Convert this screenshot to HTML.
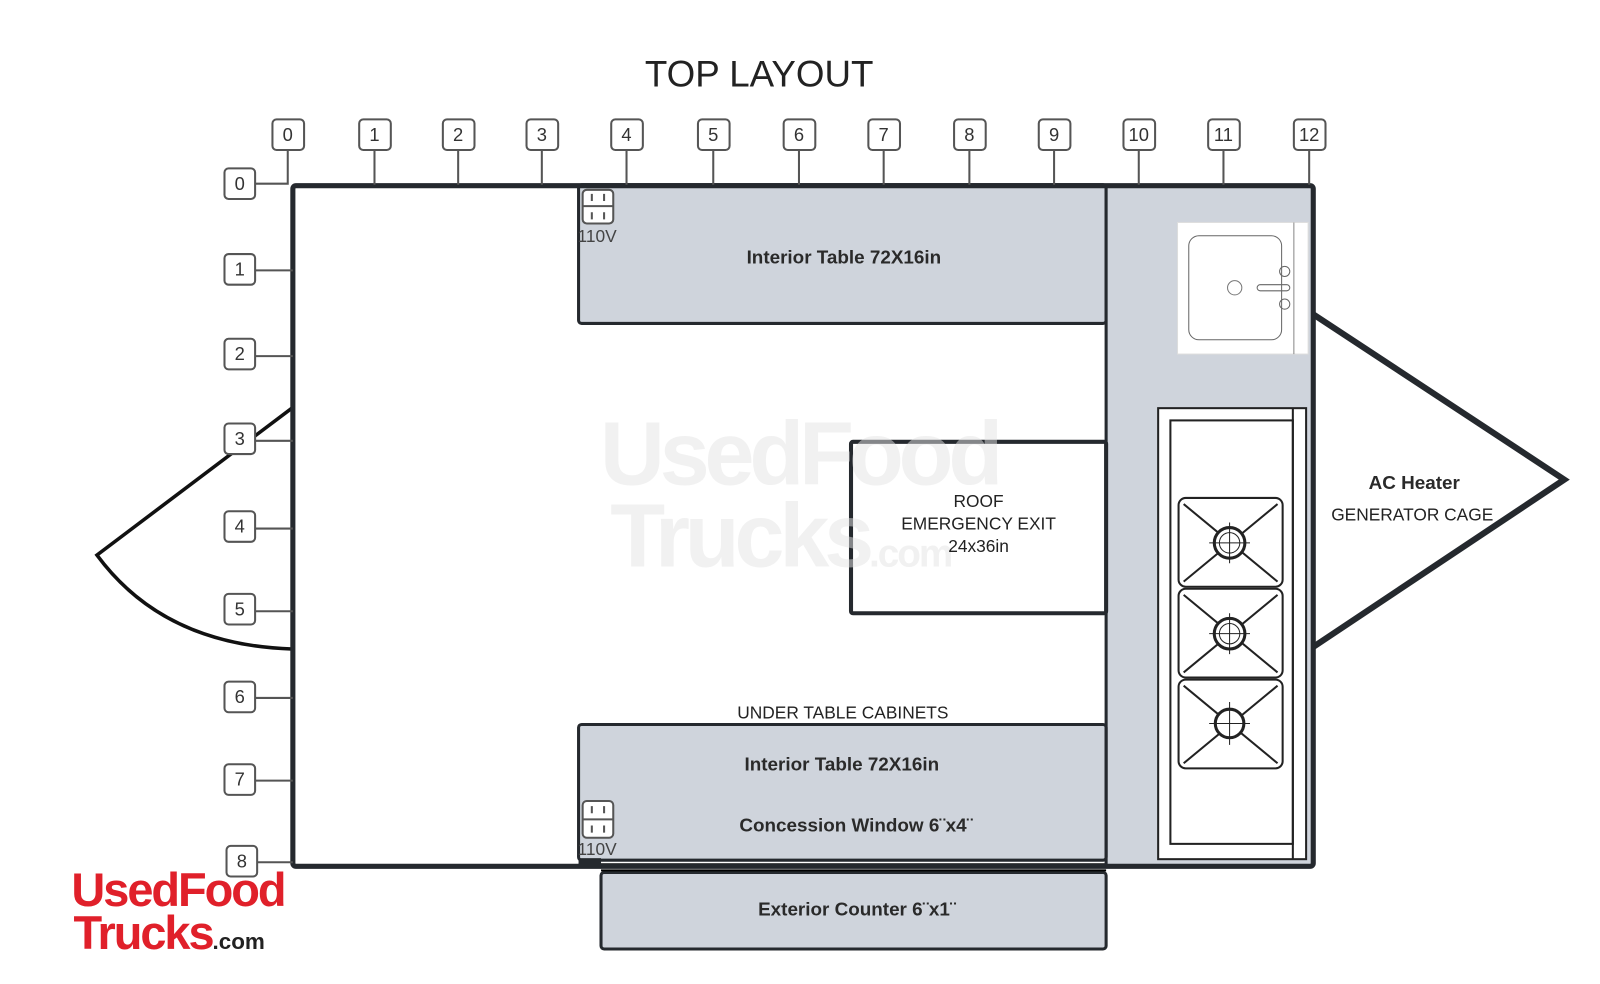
<!DOCTYPE html>
<html><head><meta charset="utf-8"><style>
html,body{margin:0;padding:0;background:#fff;overflow:hidden;}
svg{display:block;font-family:"Liberation Sans",sans-serif;}
</style></head><body>
<svg width="1600" height="984" viewBox="0 0 1600 984" xmlns="http://www.w3.org/2000/svg">
<rect width="1600" height="984" fill="#fff"/>
<g transform="scale(1.0204)">
<text x="744" y="85" font-size="36" fill="#222" text-anchor="middle">TOP LAYOUT</text>

<path d="M286 400 L95 544 Q160 632 286 636" fill="none" stroke="#111" stroke-width="3.5"/>
<path d="M1287 308 L1533 470 L1287 634" fill="#fff" stroke="#25292e" stroke-width="6" stroke-linejoin="miter"/>

<rect x="567" y="181" width="517" height="136" fill="#cfd4dc" stroke="#25292e" stroke-width="3" rx="3"/>
<rect x="1084" y="181" width="203" height="669" fill="#cfd4dc"/>
<rect x="567" y="710" width="517" height="133" fill="#cfd4dc" stroke="#25292e" stroke-width="3" rx="3"/>
<rect x="589" y="855" width="495" height="75" fill="#cfd4dc" stroke="#25292e" stroke-width="3" rx="3"/>
<line x1="567" y1="848" x2="1084" y2="848" stroke="#000" stroke-width="4"/>
<line x1="589" y1="853" x2="1084" y2="853" stroke="#000" stroke-width="2"/>
<line x1="1084" y1="181" x2="1084" y2="850" stroke="#25292e" stroke-width="3"/>

<rect x="287" y="182" width="1000" height="667" fill="none" stroke="#25292e" stroke-width="5" rx="3"/>
<rect x="567" y="841" width="22" height="10" fill="#25292e"/>

<rect x="834" y="433" width="250" height="168" fill="#fff" stroke="#25292e" stroke-width="4" rx="2"/>

<g fill="#e4e4e4" fill-opacity="0.5" font-weight="bold" font-size="88" letter-spacing="-5">
<text x="588" y="475">UsedFood</text>
<text x="598" y="555">Trucks<tspan font-size="38" letter-spacing="-2">.com</tspan></text>
</g>

<g font-size="17" fill="#222" text-anchor="middle">
<text x="959" y="497">ROOF</text>
<text x="959" y="519">EMERGENCY EXIT</text>
<text x="959" y="541">24x36in</text>
<text x="826" y="704">UNDER TABLE CABINETS</text>
<text x="1384" y="510">GENERATOR CAGE</text>
</g>
<g font-size="18.5" fill="#2a2a2a" font-weight="bold" text-anchor="middle">
<text x="827" y="258">Interior Table 72X16in</text>
<text x="825" y="755">Interior Table 72X16in</text>
<text x="839" y="815">Concession Window 6¨x4¨</text>
<text x="840" y="897">Exterior Counter 6¨x1¨</text>
<text x="1386" y="479">AC Heater</text>
</g>

<g fill="#fff" stroke="#555" stroke-width="2">
<rect x="571" y="186" width="30" height="33" rx="4"/>
<rect x="571" y="785" width="30" height="36" rx="4"/>
</g>
<g stroke="#555" stroke-width="2">
<line x1="571" y1="202" x2="601" y2="202"/><line x1="571" y1="803" x2="601" y2="803"/>
<line x1="580" y1="190" x2="580" y2="197"/><line x1="592" y1="190" x2="592" y2="197"/>
<line x1="580" y1="208" x2="580" y2="215"/><line x1="592" y1="208" x2="592" y2="215"/>
<line x1="580" y1="790" x2="580" y2="797"/><line x1="592" y1="790" x2="592" y2="797"/>
<line x1="580" y1="809" x2="580" y2="816"/><line x1="592" y1="809" x2="592" y2="816"/>
</g>
<g font-size="17" fill="#444"><text x="566" y="237">110V</text><text x="566" y="838">110V</text></g>

<rect x="1154" y="218" width="128" height="129" fill="#fff" stroke="#ddd" stroke-width="1"/>
<rect x="1165" y="231" width="91" height="102" rx="10" fill="#fff" stroke="#666" stroke-width="1"/>
<line x1="1268" y1="218" x2="1268" y2="347" stroke="#888"/>
<circle cx="1210" cy="282" r="7" fill="none" stroke="#777"/>
<rect x="1232" y="279" width="32" height="6" rx="3" fill="none" stroke="#666"/>
<circle cx="1259" cy="266" r="5" fill="none" stroke="#666"/>
<circle cx="1259" cy="298" r="5" fill="none" stroke="#666"/>

<rect x="1135" y="400" width="145" height="442" fill="#fff" stroke="#222" stroke-width="2"/>
<rect x="1147" y="412" width="120" height="415" fill="#fff" stroke="#222" stroke-width="2"/>
<line x1="1267" y1="400" x2="1267" y2="842" stroke="#222" stroke-width="2"/>
<g fill="none" stroke="#222" stroke-width="2">
<rect x="1155" y="488" width="102" height="87" rx="7"/>
<rect x="1155" y="577" width="102" height="87" rx="7"/>
<rect x="1155" y="666" width="102" height="87" rx="7"/>
<path d="M1160 494 L1252 570 M1252 494 L1160 570"/>
<path d="M1160 583 L1252 659 M1252 583 L1160 659"/>
<path d="M1160 672 L1252 748 M1252 672 L1160 748"/>
</g>
<g fill="#fff" stroke="#222" stroke-width="3">
<circle cx="1205" cy="532" r="15"/><circle cx="1205" cy="621" r="15"/><circle cx="1205" cy="709" r="14"/>
</g>
<g fill="none" stroke="#222" stroke-width="1">
<circle cx="1205" cy="532" r="10"/><circle cx="1205" cy="621" r="10"/>
<path d="M1185 532h40M1205 512v40M1185 621h40M1205 601v40M1185 709h40M1205 688v42"/>
</g>

<g stroke="#555" stroke-width="2" fill="none">
<path d="M282 147V180H250"/>
<path d="M367 147V181M449 147V181M531 147V181M614 147V181M699 147V181M783 147V181M866 147V181M950 147V181M1033 147V181M1116 147V181M1199 147V181M1283 147V181"/>
<path d="M250 265H287M250 349H287M250 432H287M250 518H287M250 599H287M250 684H287M250 765H287M252 845H287"/>
</g>
<g fill="#fff" stroke="#555" stroke-width="2">
<rect x="267" y="117" width="31" height="30" rx="4"/><rect x="352" y="117" width="31" height="30" rx="4"/>
<rect x="434" y="117" width="31" height="30" rx="4"/><rect x="516" y="117" width="31" height="30" rx="4"/>
<rect x="599" y="117" width="31" height="30" rx="4"/><rect x="684" y="117" width="31" height="30" rx="4"/>
<rect x="768" y="117" width="31" height="30" rx="4"/><rect x="851" y="117" width="31" height="30" rx="4"/>
<rect x="935" y="117" width="31" height="30" rx="4"/><rect x="1018" y="117" width="31" height="30" rx="4"/>
<rect x="1101" y="117" width="31" height="30" rx="4"/><rect x="1184" y="117" width="31" height="30" rx="4"/>
<rect x="1268" y="117" width="31" height="30" rx="4"/>
<rect x="220" y="165" width="30" height="30" rx="4"/><rect x="220" y="249" width="30" height="30" rx="4"/>
<rect x="220" y="332" width="30" height="30" rx="4"/><rect x="220" y="415" width="30" height="30" rx="4"/>
<rect x="220" y="501" width="30" height="30" rx="4"/><rect x="220" y="582" width="30" height="30" rx="4"/>
<rect x="220" y="668" width="30" height="30" rx="4"/><rect x="220" y="749" width="30" height="30" rx="4"/>
<rect x="222" y="829" width="30" height="30" rx="4"/>
</g>
<g font-size="18" fill="#333" text-anchor="middle">
<text x="282" y="138">0</text><text x="367" y="138">1</text><text x="449" y="138">2</text><text x="531" y="138">3</text>
<text x="614" y="138">4</text><text x="699" y="138">5</text><text x="783" y="138">6</text><text x="866" y="138">7</text>
<text x="950" y="138">8</text><text x="1033" y="138">9</text><text x="1116" y="138">10</text><text x="1199" y="138">11</text>
<text x="1283" y="138">12</text>
<text x="235" y="186">0</text><text x="235" y="270">1</text><text x="235" y="353">2</text><text x="235" y="436">3</text>
<text x="235" y="522">4</text><text x="235" y="603">5</text><text x="235" y="689">6</text><text x="235" y="770">7</text>
<text x="237" y="850">8</text>
</g>

<g fill="#e0202a" font-weight="bold" letter-spacing="-2">
<text x="70" y="888" font-size="46">UsedFood</text>
<text x="72" y="930" font-size="46">Trucks<tspan font-size="22" fill="#222" letter-spacing="0">.com</tspan></text>
</g>
</g>
</svg>
</body></html>
